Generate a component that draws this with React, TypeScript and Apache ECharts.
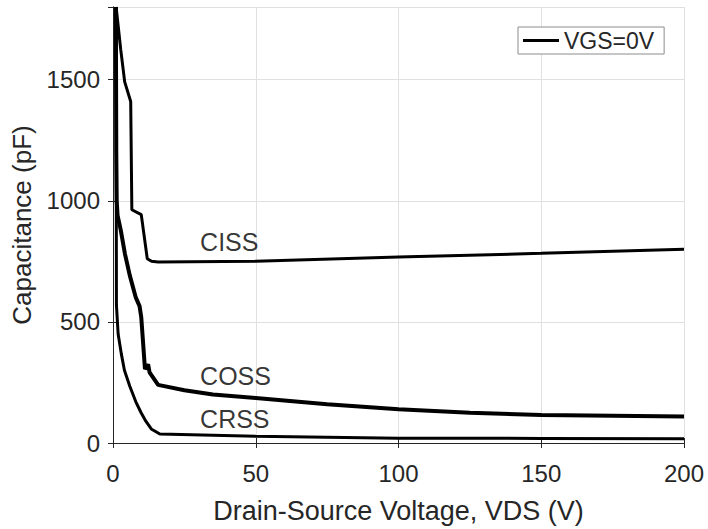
import React, { useEffect, useRef } from "react";
import * as echarts from "echarts";

// Data (V, pF)
const cissData: [number, number][] = [
  [1.1, 1800], [2.7, 1625], [4.1, 1491], [6.2, 1410], [6.6, 963], [9.9, 943],
  [12, 761], [13.5, 750], [15.8, 747], [50, 750], [100, 768], [150, 783], [200, 800],
];
const cossData: [number, number][] = [
  [1.0, 1800], [1.15, 1200], [1.3, 1000], [1.6, 940], [2.7, 880], [4.2, 780], [5.85, 693],
  [8, 600], [9.3, 565], [9.9, 519], [11.2, 305], [12.3, 325], [12.8, 292], [15.8, 240],
  [25, 218], [35, 200], [50, 186], [75, 160], [100, 139], [125, 125], [150, 116], [200, 109],
];
const crssData: [number, number][] = [
  [1.1, 1800], [1.15, 1000], [1.2, 570], [1.8, 450], [2.9, 369], [4, 300], [5.85, 235],
  [8, 170], [9.8, 126], [11.5, 90], [13.4, 58], [16.4, 37], [50, 28], [100, 20],
  [150, 19], [200, 18],
];
const curveLabels = [
  { name: "CISS", value: [30.5, 828] },
  { name: "COSS", value: [30.5, 278] },
  { name: "CRSS", value: [30.5, 98] },
];
const legendName = "VGS=0V";
const xTitle = "Drain-Source Voltage, VDS (V)";
const yTitle = "Capacitance (pF)";

const FONT = "Liberation Sans, Arial, Helvetica, sans-serif";
const TXT = "#262626";

export default function App() {
  const ref = useRef<HTMLDivElement>(null);
  useEffect(() => {
    const chart = echarts.init(ref.current!, null, { renderer: "svg" });
    const axisCommon = {
      type: "value" as const,
      axisLine: { show: true, lineStyle: { color: TXT, width: 1 } },
      axisTick: { show: true, inside: true, length: 5, lineStyle: { color: TXT } },
    };
    chart.setOption({
      animation: false,
      backgroundColor: "#ffffff",
      textStyle: { fontFamily: FONT },
      grid: { left: 113, right: 24, top: 7, bottom: 77, containLabel: false },
      legend: {
        data: [legendName],
        left: 518,
        top: 27,
        padding: [2, 10, 2, 5],
        itemWidth: 36,
        itemHeight: 3,
        itemGap: 4,
        icon: "rect",
        borderColor: "#8c8c8c",
        borderWidth: 1,
        backgroundColor: "#fff",
        textStyle: { fontSize: 23, color: TXT, fontFamily: FONT, padding: [0, 0, 0, 0] },
      },
      xAxis: [
        {
          ...axisCommon,
          min: 0, max: 200, interval: 50,
          position: "bottom",
          name: xTitle,
          nameLocation: "middle",
          nameGap: 54,
          nameTextStyle: { fontSize: 27, color: TXT, fontFamily: FONT },
          axisLabel: { fontSize: 24, color: TXT, margin: 18, fontFamily: FONT },
          splitLine: { show: true, lineStyle: { color: "#e0e0e0", width: 1 } },
        },
        {
          ...axisCommon,
          min: 0, max: 200, interval: 50,
          position: "top",
          axisLabel: { show: false },
          splitLine: { show: false },
        },
      ],
      yAxis: [
        {
          ...axisCommon,
          min: 0, max: 1800, interval: 500,
          position: "left",
          name: yTitle,
          nameLocation: "middle",
          nameGap: 78,
          nameTextStyle: { fontSize: 26, color: TXT, fontFamily: FONT },
          axisLabel: {
            fontSize: 24, color: TXT, margin: 13, fontFamily: FONT,
            formatter: (v: number) => (v % 500 === 0 ? String(v) : ""),
          },
          splitLine: { show: true, lineStyle: { color: "#e0e0e0", width: 1 } },
        },
        {
          ...axisCommon,
          min: 0, max: 1800, interval: 500,
          position: "right",
          axisLabel: { show: false },
          splitLine: { show: false },
        },
      ],
      series: [
        {
          name: legendName,
          type: "line",
          data: cissData,
          showSymbol: false,
          lineStyle: { color: "#000", width: 3 },
          itemStyle: { color: "#000" },
          z: 3,
        },
        {
          name: "COSS",
          type: "line",
          data: cossData,
          showSymbol: false,
          lineStyle: { color: "#000", width: 4 },
          itemStyle: { color: "#000" },
          z: 3,
        },
        {
          name: "CRSS",
          type: "line",
          data: crssData,
          showSymbol: false,
          lineStyle: { color: "#000", width: 3 },
          itemStyle: { color: "#000" },
          z: 3,
        },
        {
          name: "labels",
          type: "scatter",
          data: curveLabels,
          symbolSize: 0,
          silent: true,
          label: {
            show: true,
            position: [0, 0],
            align: "left",
            verticalAlign: "middle",
            formatter: (p: any) => p.name,
            fontSize: 25,
            color: "#000",
            fontFamily: FONT,
          },
          z: 4,
        },
      ],
    });
    return () => chart.dispose();
  }, []);
  return (
    <div
      ref={ref}
      style={{ position: "fixed", left: 0, top: 0, width: 708, height: 529 }}
    />
  );
}
